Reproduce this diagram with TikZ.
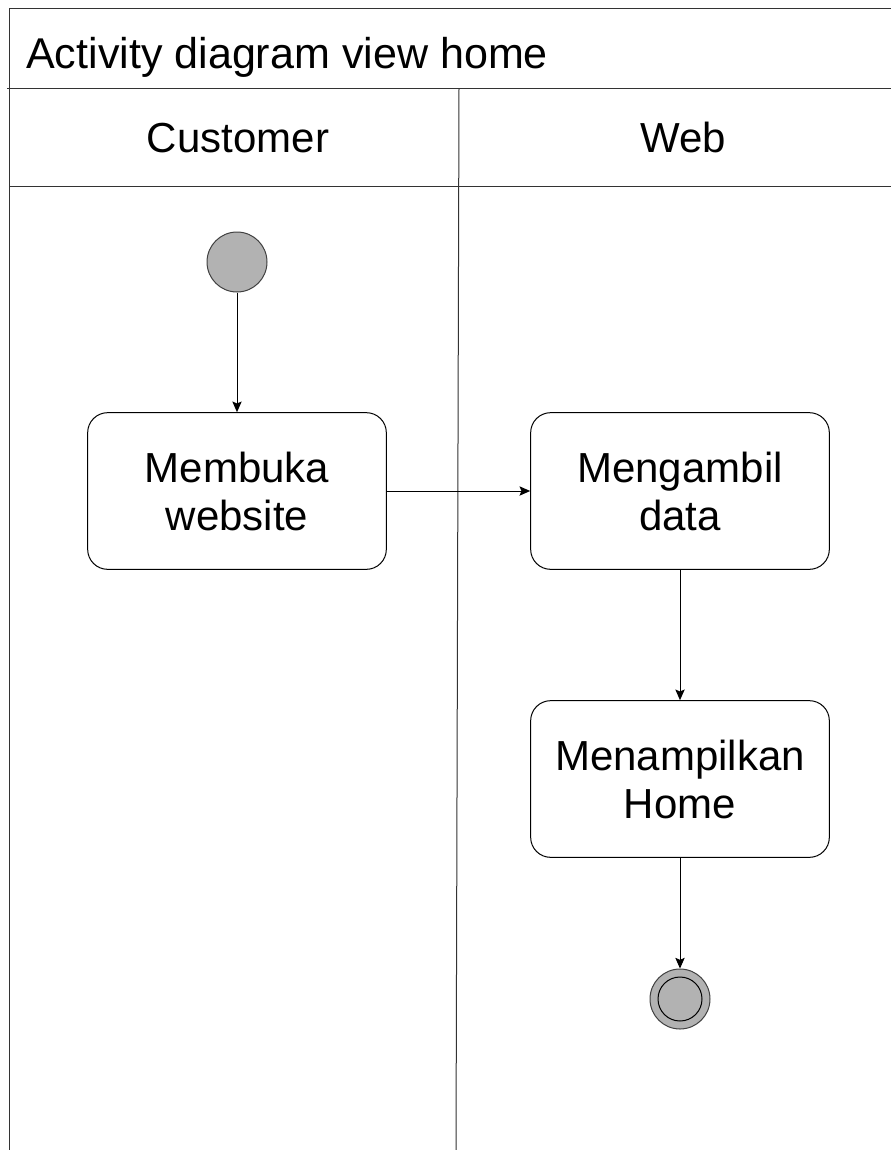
\documentclass[tikz,border=0pt]{standalone}
\usepackage{fontspec}
\setmainfont{Liberation Sans}
\usetikzlibrary{arrows.meta,calc,positioning}

\begin{document}
\begin{tikzpicture}[x=0.75pt, y=-0.75pt,
    bigfont/.style={font=\fontsize{31.5}{36}\selectfont},
    titlefont/.style={font=\fontsize{32.3}{36}\selectfont},
    lane/.style={draw=black!80, line width=0.75pt},
    activity/.style={draw, line width=0.75pt, rounded corners=15pt, minimum width=224pt, minimum height=117.5pt, text width=215pt, align=center, bigfont},
    startdot/.style={circle, draw=black!75, line width=0.75pt, fill=black!30, minimum size=45pt, inner sep=0pt},
    enddot/.style={circle, draw=black!75, line width=0.75pt, fill=black!30, minimum size=45pt, inner sep=0pt},
    endcore/.style={circle, draw=black, line width=0.75pt, fill=black!30, minimum size=33pt, inner sep=0pt},
    flow/.style={-{Stealth[length=8pt, width=7pt, inset=1.5pt]}, line width=0.75pt}
  ]
    \useasboundingbox (0,0) rectangle (891,1150);

    %coordinates
    \coordinate (orig)   at (9,8);
    \coordinate (S0) at (237,262);
    \coordinate (A0) at ($(S0) + (0,229)$);
    \coordinate (B0) at ($(A0) + (443,0)$);
    \coordinate (B1) at ($(B0) + (0,288)$);
    \coordinate (E0) at ($(B1) + (0,220)$);

    %frame
    \draw[lane] (9,1150) -- (orig) -- (891,8);
    \draw[lane] (7,88) -- (891,88);
    \draw[lane] (9,186) -- (891,186);
    \draw[lane] (459,88) -- (456,1150);

    %labels
    \node[titlefont, anchor=base west, inner sep=0pt] (title) at (26,68) {Activity diagram view home};
    \node[bigfont, anchor=base, inner sep=0pt] (customer) at (238,152) {Customer};
    \node[bigfont, anchor=base, inner sep=0pt] (web) at (683,152) {Web};

    %nodes
    \node[startdot] (start) at (S0) {};
    \node[activity] (open) at (A0) {Membuka\\website};
    \node[activity] (fetch) at (B0) {Mengambil\\data};
    \node[activity] (show) at (B1) {Menampilkan\\Home};
    \node[enddot] (finish) at (E0) {};
    \node[endcore] (finishin) at (finish) {};

    %edges
    \draw[flow] (start) -- (open);
    \draw[flow] (open) -- (fetch);
    \draw[flow] (fetch) -- (show);
    \draw[flow] (show) -- (finish);
\end{tikzpicture}
\end{document}
